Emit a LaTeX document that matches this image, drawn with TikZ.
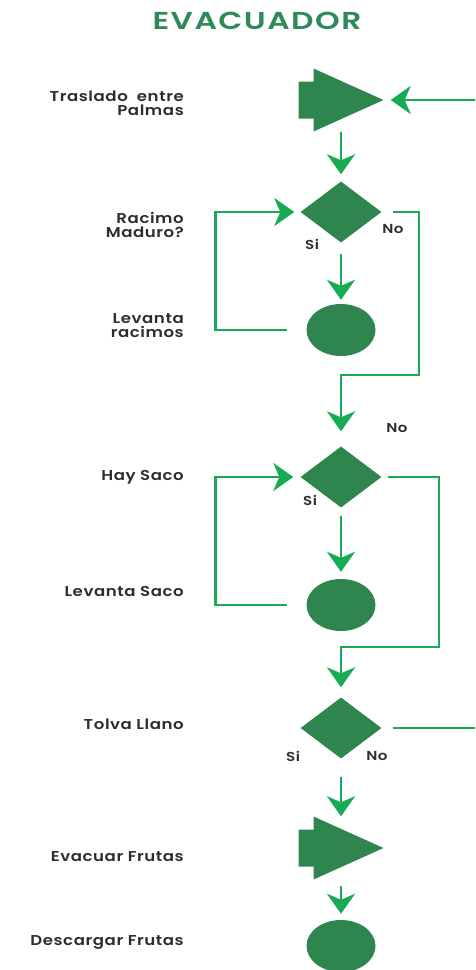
\documentclass[tikz,border=0pt]{standalone}
\usepackage{fontspec}
\setmainfont{Poppins}
\newfontfamily\semifont{Poppins SemiBold}[FakeStretch=1.16, LetterSpace=4]
\newfontfamily\titlefont{Poppins SemiBold}[FakeStretch=1.28, LetterSpace=6]
\usetikzlibrary{shapes.geometric, arrows.meta, positioning, calc}
\definecolor{evacShape}{RGB}{46,134,78}
\definecolor{evacLine}{RGB}{24,170,84}
\definecolor{evacTitle}{RGB}{46,139,87}
\definecolor{evacText}{RGB}{45,45,45}

\tikzset{
    flow/.style={draw=evacLine, line width=2.8pt, -{Stealth[length=20pt, width=28pt, inset=6pt]}},
    decision/.style={diamond, fill=evacShape, minimum width=81pt, minimum height=61pt, inner sep=0pt},
    operation/.style={ellipse, fill=evacShape, minimum width=69pt, minimum height=52pt, inner sep=0pt},
    transport/.style={minimum width=85pt, minimum height=63pt, inner sep=0pt,
        path picture={
            \fill[evacShape] ([yshift=13pt]path picture bounding box.south west)
                -- ++(15pt,0pt) -- ([xshift=15pt]path picture bounding box.south west)
                -- (path picture bounding box.east)
                -- ([xshift=15pt]path picture bounding box.north west)
                -- ++(0pt,-13pt) -- ([yshift=-13pt]path picture bounding box.north west) -- cycle;
        }},
    steplabel/.style={anchor=east, align=right, text=evacText, inner sep=0pt,
        font=\semifont\fontsize{14.3}{14}\selectfont},
    answer/.style={text=evacText, inner sep=0pt, font=\semifont\fontsize{13}{14}\selectfont}
}

\begin{document}
\begin{tikzpicture}[x=1pt, y=-1pt]
    \path[use as bounding box, clip] (0,0) rectangle (475,970);

    \node[text=evacTitle, font=\titlefont\fontsize{24.5}{28}\selectfont] (title) at (257,21) {EVACUADOR};

    % symbols of the process
    \node[transport] (tras) at (341,100) {};
    \node[decision] (racimo) at (341,212) {};
    \node[operation] (levRac) at (341,330) {};
    \node[decision] (haySaco) at (341,477) {};
    \node[operation] (levSaco) at (341,605) {};
    \node[decision] (tolva) at (341,728) {};
    \node[transport] (evac) at (341,848) {};
    \node[operation] (desc) at (341,946) {};

    % step names
    \node[steplabel] (lblTras) at (184,103) {Traslado\ \ entre\\Palmas};
    \node[steplabel] (lblRacimo) at (184,225) {Racimo\\Maduro?};
    \node[steplabel] (lblLevRac) at (184,326) {Levanta\\racimos};
    \node[steplabel] (lblHay) at (184,477) {Hay Saco};
    \node[steplabel] (lblLevSaco) at (184,591) {Levanta Saco};
    \node[steplabel] (lblTolva) at (184,724) {Tolva Llano};
    \node[steplabel] (lblEvac) at (184,857) {Evacuar Frutas};
    \node[steplabel] (lblDesc) at (184,942) {Descargar Frutas};

    % answers
    \node[answer] (si1) at (312,244) {Si};
    \node[answer] (no1) at (393,229) {No};
    \node[answer] (no2) at (397,428) {No};
    \node[answer] (si2) at (310,500) {Si};
    \node[answer] (si3) at (293,756) {Si};
    \node[answer] (no3) at (377,756) {No};

    % joints
    \coordinate (jn1) at (419,375);
    \coordinate (jn2) at (439,647);
    \coordinate (back) at (490,100);

    % connectors
    \draw[flow, shorten >=7pt] (tras.south) -- (racimo.north);
    \draw[flow, shorten <=11pt, shorten >=4pt] (racimo.south) -- (levRac.north);
    \draw[flow, shorten <=19pt, shorten >=6pt] (levRac.west) -- ++(-91pt,0pt) |- (racimo.west);
    \draw[flow, shorten <=11pt, shorten >=15pt] (racimo.east) -| (jn1) -| (haySaco.north);
    \draw[flow, shorten <=8pt, shorten >=7pt] (haySaco.south) -- (levSaco.north);
    \draw[flow, shorten <=19pt, shorten >=7pt] (levSaco.west) -- ++(-91pt,0pt) |- (haySaco.west);
    \draw[flow, shorten <=6pt, shorten >=10pt] (haySaco.east) -| (jn2) -| (tolva.north);
    \draw[flow, shorten <=18pt] (tolva.south) -- (evac.north);
    \draw[flow, shorten <=6pt, shorten >=6pt] (evac.south) -- (desc.north);
    \draw[flow, shorten <=11pt, shorten >=7pt] (tolva.east) -| (back) -- (tras.east);
\end{tikzpicture}
\end{document}
